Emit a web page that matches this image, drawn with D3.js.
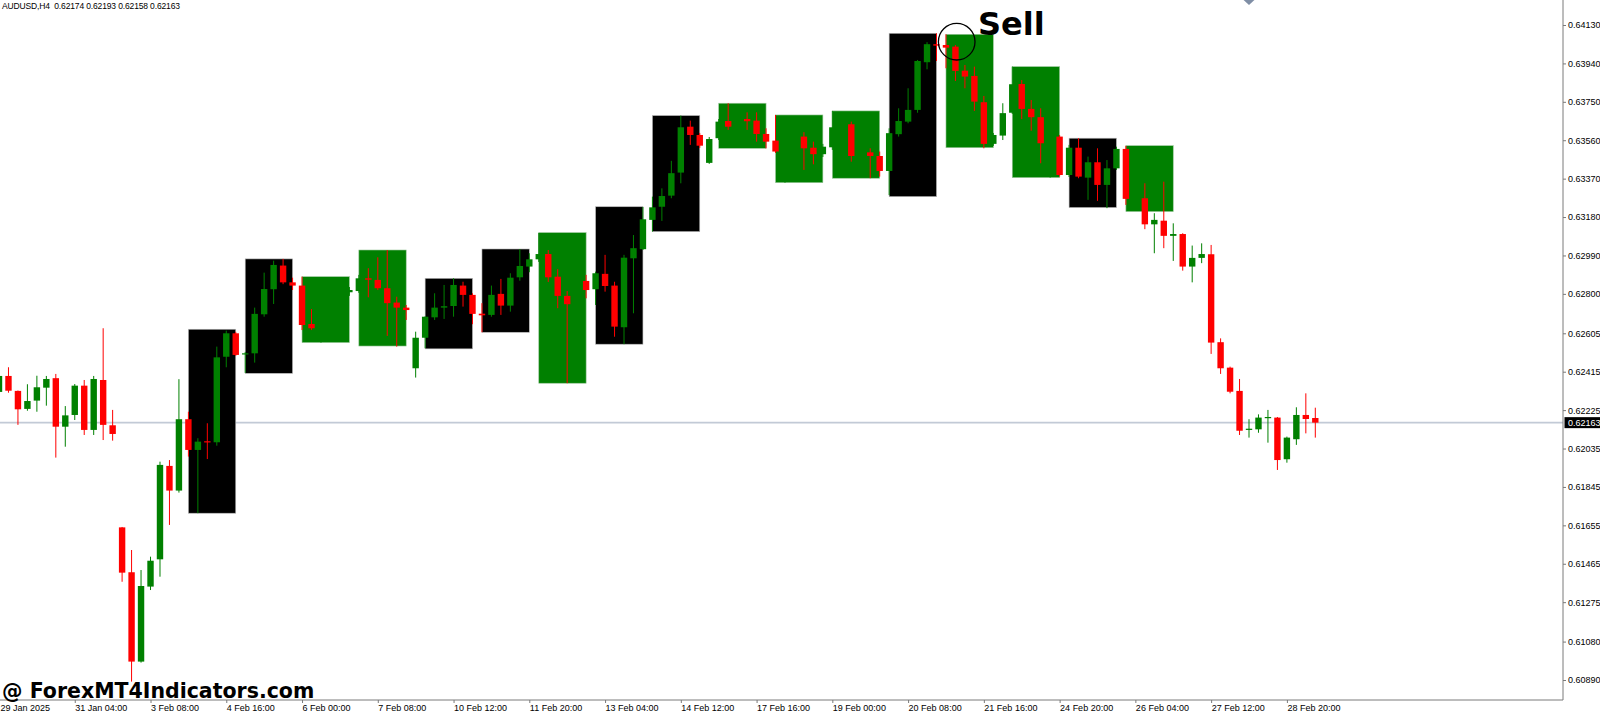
<!DOCTYPE html>
<html lang='en'>

<head>
    <meta charset='UTF-8'>
    <title>AUDUSD,H4</title>
    <script src='https://d3js.org/d3.v7.min.js' charset='utf-8'></script>
    <style>
        body {
            margin: 0px;
            overflow: hidden;
            background: #ffffff;
        }

        svg text {
            font-family: 'Liberation Sans', Arial, sans-serif;
        }

        .axis text {
            font-size: 9px;
            fill: #000000;
        }

        .axis line {
            stroke: #7a7a7a;
        }
    </style>
</head>

<body>
    <div id='chart'></div>
    <script>
        'use strict';

        // H4 bars, oldest first
        const opens = [
            0.62315, 0.62394, 0.62320, 0.62231, 0.62272, 0.62336, 0.62383, 0.62143, 0.62201, 0.62346,
            0.62127, 0.62374, 0.62150, 0.61645, 0.61423, 0.60981, 0.61352, 0.61487, 0.61949, 0.61827,
            0.62180, 0.62028, 0.62071, 0.62066, 0.62489, 0.62605, 0.62501, 0.62506, 0.62699, 0.62823,
            0.62940, 0.62857, 0.62841, 0.62651, 0.62631, 0.62681, 0.62760, 0.62808, 0.62814, 0.62877,
            0.62869, 0.62828, 0.62757, 0.62732, 0.62432, 0.62583, 0.62684, 0.62732, 0.62740, 0.62841,
            0.62795, 0.62702, 0.62696, 0.62800, 0.62742, 0.62882, 0.62935, 0.62971, 0.62997, 0.62885,
            0.62790, 0.62750, 0.62864, 0.62823, 0.62899, 0.62841, 0.62635, 0.62976, 0.63021, 0.63166,
            0.63231, 0.63286, 0.63400, 0.63627, 0.63586, 0.63448, 0.63570, 0.63655, 0.63627, 0.63665,
            0.63657, 0.63591, 0.63558, 0.63504, 0.63537, 0.63578, 0.63523, 0.63491, 0.63525, 0.63624,
            0.63639, 0.63482, 0.63500, 0.63482, 0.63408, 0.63590, 0.63652, 0.63710, 0.63946, 0.64035,
            0.64031, 0.64023, 0.63904, 0.63878, 0.63748, 0.63542, 0.63583, 0.63696, 0.63838, 0.63715,
            0.63674, 0.63545, 0.63578, 0.63388, 0.63523, 0.63375, 0.63451, 0.63339, 0.63421, 0.63517,
            0.63267, 0.63273, 0.63144, 0.63162, 0.63087, 0.63096, 0.62935, 0.62978, 0.62996, 0.62561,
            0.62435, 0.62320, 0.62127, 0.62130, 0.62188, 0.62188, 0.61982, 0.62081, 0.62201, 0.62186
        ];
        const highs = [
            0.62433, 0.62437, 0.62322, 0.62353, 0.62395, 0.62394, 0.62404, 0.62245, 0.62354, 0.62374,
            0.62394, 0.62630, 0.62226, 0.61647, 0.61533, 0.61434, 0.61500, 0.61970, 0.61978, 0.62378,
            0.62217, 0.62086, 0.62160, 0.62539, 0.62618, 0.62612, 0.62513, 0.62732, 0.62905, 0.62964,
            0.62973, 0.62880, 0.62885, 0.62725, 0.62711, 0.62790, 0.62849, 0.62834, 0.62894, 0.62927,
            0.62981, 0.63017, 0.62786, 0.62745, 0.62613, 0.62689, 0.62803, 0.62844, 0.62877, 0.62860,
            0.62803, 0.62754, 0.62841, 0.62874, 0.62902, 0.63022, 0.63001, 0.63101, 0.63017, 0.62922,
            0.62814, 0.62869, 0.62894, 0.62910, 0.62993, 0.62860, 0.62993, 0.63091, 0.63230, 0.63281,
            0.63322, 0.63458, 0.63682, 0.63657, 0.63596, 0.63576, 0.63665, 0.63743, 0.63680, 0.63698,
            0.63698, 0.63619, 0.63685, 0.63561, 0.63611, 0.63600, 0.63553, 0.63542, 0.63705, 0.63670,
            0.63652, 0.63522, 0.63520, 0.63504, 0.63619, 0.63718, 0.63817, 0.63957, 0.64045, 0.64089,
            0.64084, 0.64031, 0.63932, 0.63924, 0.63779, 0.63596, 0.63743, 0.63924, 0.63858, 0.63759,
            0.63718, 0.63611, 0.63586, 0.63537, 0.63570, 0.63479, 0.63520, 0.63462, 0.63528, 0.63532,
            0.63304, 0.63347, 0.63199, 0.63355, 0.63149, 0.63100, 0.63039, 0.63050, 0.63042, 0.62580,
            0.62440, 0.62379, 0.62180, 0.62204, 0.62226, 0.62191, 0.62094, 0.62239, 0.62308, 0.62237
        ];
        const lows = [
            0.62300, 0.62311, 0.62152, 0.62222, 0.62217, 0.62247, 0.61990, 0.62044, 0.62176, 0.62102,
            0.62102, 0.62077, 0.62074, 0.61376, 0.60882, 0.60976, 0.61335, 0.61401, 0.61657, 0.61817,
            0.61995, 0.61715, 0.61983, 0.62049, 0.62437, 0.62493, 0.62409, 0.62460, 0.62687, 0.62750,
            0.62848, 0.62819, 0.62621, 0.62621, 0.62559, 0.62661, 0.62740, 0.62790, 0.62805, 0.62783,
            0.62819, 0.62592, 0.62539, 0.62671, 0.62386, 0.62531, 0.62671, 0.62676, 0.62687, 0.62737,
            0.62650, 0.62610, 0.62687, 0.62696, 0.62712, 0.62865, 0.62907, 0.62958, 0.62859, 0.62729,
            0.62358, 0.62720, 0.62778, 0.62745, 0.62811, 0.62588, 0.62551, 0.62704, 0.63017, 0.63108,
            0.63161, 0.63273, 0.63347, 0.63537, 0.63522, 0.63443, 0.63561, 0.63611, 0.63611, 0.63611,
            0.63553, 0.63520, 0.63497, 0.63350, 0.63512, 0.63413, 0.63441, 0.63477, 0.63512, 0.63611,
            0.63454, 0.63462, 0.63372, 0.63380, 0.63289, 0.63578, 0.63644, 0.63696, 0.63911, 0.63952,
            0.63916, 0.63853, 0.63817, 0.63705, 0.63520, 0.63532, 0.63561, 0.63690, 0.63665, 0.63607,
            0.63446, 0.63375, 0.63380, 0.63378, 0.63372, 0.63265, 0.63260, 0.63224, 0.63413, 0.63240,
            0.63210, 0.63120, 0.63001, 0.63026, 0.62963, 0.62915, 0.62857, 0.62952, 0.62503, 0.62404,
            0.62308, 0.62102, 0.62089, 0.62113, 0.62064, 0.61929, 0.61965, 0.62053, 0.62110, 0.62089
        ];
        const closes = [
            0.62394, 0.62321, 0.62229, 0.62270, 0.62338, 0.62379, 0.62143, 0.62199, 0.62346, 0.62127,
            0.62379, 0.62152, 0.62107, 0.61421, 0.60981, 0.61355, 0.61480, 0.61954, 0.61827, 0.62180,
            0.62028, 0.62069, 0.62066, 0.62486, 0.62605, 0.62498, 0.62506, 0.62701, 0.62824, 0.62943,
            0.62857, 0.62841, 0.62646, 0.62630, 0.62681, 0.62760, 0.62814, 0.62819, 0.62877, 0.62870,
            0.62828, 0.62754, 0.62732, 0.62720, 0.62583, 0.62687, 0.62732, 0.62739, 0.62844, 0.62795,
            0.62701, 0.62694, 0.62795, 0.62742, 0.62880, 0.62938, 0.62971, 0.62997, 0.62882, 0.62790,
            0.62749, 0.62849, 0.62819, 0.62902, 0.62839, 0.62638, 0.62979, 0.63026, 0.63169, 0.63228,
            0.63284, 0.63397, 0.63624, 0.63586, 0.63533, 0.63566, 0.63652, 0.63627, 0.63660, 0.63654,
            0.63591, 0.63553, 0.63504, 0.63537, 0.63576, 0.63520, 0.63491, 0.63528, 0.63624, 0.63639,
            0.63482, 0.63500, 0.63482, 0.63408, 0.63595, 0.63655, 0.63710, 0.63952, 0.64035, 0.64028,
            0.64018, 0.63903, 0.63875, 0.63751, 0.63542, 0.63586, 0.63694, 0.63837, 0.63715, 0.63674,
            0.63545, 0.63578, 0.63388, 0.63523, 0.63380, 0.63451, 0.63339, 0.63421, 0.63517, 0.63270,
            0.63273, 0.63144, 0.63166, 0.63087, 0.63096, 0.62935, 0.62978, 0.62997, 0.62559, 0.62432,
            0.62316, 0.62123, 0.62133, 0.62188, 0.62191, 0.61978, 0.62089, 0.62201, 0.62181, 0.62163
        ];

        // range boxes: first bar, last bar, top, bottom, fill
        const boxStart = [20, 26, 32, 38, 45, 51, 57, 63, 69, 76, 82, 88, 94, 100, 107, 113, 119];
        const boxEnd = [25, 31, 37, 43, 50, 56, 62, 68, 74, 81, 87, 93, 99, 105, 112, 118, 124];
        const boxTop = [0.62625, 0.62973, 0.62885, 0.63017, 0.62877, 0.63022, 0.63103, 0.63231, 0.63682,
            0.63743, 0.63685, 0.63705, 0.64089, 0.64084, 0.63924, 0.63570, 0.63533];
        const boxBottom = [0.61715, 0.62407, 0.62559, 0.62542, 0.62528, 0.62610, 0.62358, 0.62551, 0.63108,
            0.63520, 0.63350, 0.63372, 0.63281, 0.63523, 0.63375, 0.63227, 0.63207];
        const boxKind = ['black', 'black', 'green', 'green', 'black', 'black', 'green', 'black', 'black',
            'green', 'green', 'green', 'black', 'green', 'green', 'black', 'green'];

        const xTickBars = [0, 8, 16, 24, 32, 40, 48, 56, 64, 72, 80, 88, 96, 104, 112, 120, 128, 136];
        const xLabels = ['29 Jan 2025', '31 Jan 04:00', '3 Feb 08:00', '4 Feb 16:00', '6 Feb 00:00',
            '7 Feb 08:00', '10 Feb 12:00', '11 Feb 20:00', '13 Feb 04:00', '14 Feb 12:00', '17 Feb 16:00',
            '19 Feb 00:00', '20 Feb 08:00', '21 Feb 16:00', '24 Feb 20:00', '26 Feb 04:00', '27 Feb 12:00',
            '28 Feb 20:00'];
        const yTicks = [0.64130, 0.63940, 0.63750, 0.63560, 0.63370, 0.63180, 0.62990, 0.62800, 0.62605,
            0.62415, 0.62225, 0.62035, 0.61845, 0.61655, 0.61465, 0.61275, 0.61080, 0.60890];

        const lastPrice = 0.62163;
        const header = 'AUDUSD,H4  0.62174 0.62193 0.62158 0.62163';

        const bull = '#008000', bear = '#ff0000';
        const width = 1600, height = 714;
        const plotRight = 1563, plotBottom = 700;

        const bars = opens.map((o, i) => ({ i: i, o: o, h: highs[i], l: lows[i], c: closes[i] }));

        const svg = d3.select('#chart')
            .append('svg')
            .attr('width', width)
            .attr('height', height);

        svg.append('rect')
            .attr('width', width)
            .attr('height', height)
            .attr('fill', '#ffffff');

        svg.append('clipPath')
            .attr('id', 'plot')
            .append('rect')
            .attr('width', plotRight)
            .attr('height', plotBottom);

        const x = d3.scaleLinear()
            .domain([0, bars.length - 1])
            .range([-1, 1315.3]);

        const y = d3.scaleLinear()
            .domain([0.60890, 0.64130])
            .range([680, 25]);

        const plot = svg.append('g').attr('clip-path', 'url(#plot)');

        // current price line sits behind everything
        plot.append('line')
            .attr('x1', 0)
            .attr('x2', plotRight)
            .attr('y1', y(lastPrice))
            .attr('y2', y(lastPrice))
            .attr('stroke', '#c2cad6')
            .attr('stroke-width', 1.6);

        plot.selectAll('rect.box')
            .data(boxStart)
            .enter()
            .append('rect')
            .attr('class', 'box')
            .attr('x', (d, k) => x(d))
            .attr('width', (d, k) => x(boxEnd[k]) - x(d))
            .attr('y', (d, k) => y(boxTop[k]))
            .attr('height', (d, k) => y(boxBottom[k]) - y(boxTop[k]))
            .attr('fill', (d, k) => boxKind[k] === 'black' ? '#000000' : bull)
            .attr('stroke', (d, k) => boxKind[k] === 'black' ? '#b8b8b8' : '#9cc79c')
            .attr('stroke-width', 0.6);

        const candle = plot.selectAll('g.candle')
            .data(bars)
            .enter()
            .append('g')
            .attr('class', 'candle');

        candle.append('line')
            .attr('x1', d => x(d.i))
            .attr('x2', d => x(d.i))
            .attr('y1', d => y(d.h))
            .attr('y2', d => y(d.l))
            .attr('stroke', d => d.c >= d.o ? bull : bear)
            .attr('stroke-width', 1);

        candle.append('rect')
            .attr('x', d => x(d.i) - 3.2)
            .attr('width', 6.4)
            .attr('y', d => y(Math.max(d.o, d.c)))
            .attr('height', d => Math.max(1.2, Math.abs(y(d.o) - y(d.c))))
            .attr('fill', d => d.c >= d.o ? bull : bear);

        // sell mark
        svg.append('circle')
            .attr('cx', 956.7)
            .attr('cy', 41.7)
            .attr('r', 18.3)
            .attr('fill', 'none')
            .attr('stroke', '#000000')
            .attr('stroke-width', 1.3);

        svg.append('text')
            .attr('x', 978)
            .attr('y', 35)
            .style('font-family', "'DejaVu Sans', sans-serif")
            .style('font-weight', 'bold')
            .style('font-size', '32px')
            .text('Sell');

        // chart shift marker
        svg.append('path')
            .attr('d', 'M1249,-7 L1255.5,-1 L1249,5 L1242.5,-1 Z')
            .attr('fill', '#7f8ea5');

        // axes
        svg.append('line')
            .attr('x1', plotRight)
            .attr('x2', plotRight)
            .attr('y1', 0)
            .attr('y2', plotBottom)
            .attr('stroke', '#7a7a7a');
        svg.append('line')
            .attr('x1', 0)
            .attr('x2', plotRight)
            .attr('y1', plotBottom)
            .attr('y2', plotBottom)
            .attr('stroke', '#7a7a7a');

        const yAxis = svg.append('g')
            .attr('class', 'axis')
            .attr('transform', `translate(${plotRight}, 0)`)
            .call(d3.axisRight(y).tickValues(yTicks).tickFormat(d3.format('.5f')).tickSize(3).tickPadding(2));
        yAxis.select('.domain').remove();

        const xAxis = svg.append('g')
            .attr('class', 'axis')
            .attr('transform', `translate(0, ${plotBottom})`)
            .call(d3.axisBottom(x).tickValues(xTickBars).tickFormat((d, k) => xLabels[k]).tickSize(3));
        xAxis.select('.domain').remove();
        xAxis.selectAll('text')
            .attr('text-anchor', 'start')
            .attr('x', (d, k) => k === 0 ? 1 : 0)
            .attr('y', 11)
            .attr('dy', 0);

        // last price tag
        svg.append('rect')
            .attr('x', plotRight + 1.5)
            .attr('y', y(lastPrice) - 5.5)
            .attr('width', width - plotRight)
            .attr('height', 11)
            .attr('fill', '#000000');
        svg.append('text')
            .attr('x', plotRight + 5)
            .attr('y', y(lastPrice) + 3.3)
            .attr('fill', '#ffffff')
            .style('font-size', '9px')
            .text(d3.format('.5f')(lastPrice));

        svg.append('text')
            .attr('x', 2)
            .attr('y', 9.3)
            .attr('textLength', 178)
            .attr('lengthAdjust', 'spacing')
            .style('font-size', '8.5px')
            .style('white-space', 'pre')
            .text(header);

        svg.append('text')
            .attr('x', 2)
            .attr('y', 698)
            .style('font-family', "'DejaVu Sans', sans-serif")
            .style('font-weight', 'bold')
            .style('font-size', '20.5px')
            .text('@ ForexMT4Indicators.com');
    </script>
</body>

</html>
